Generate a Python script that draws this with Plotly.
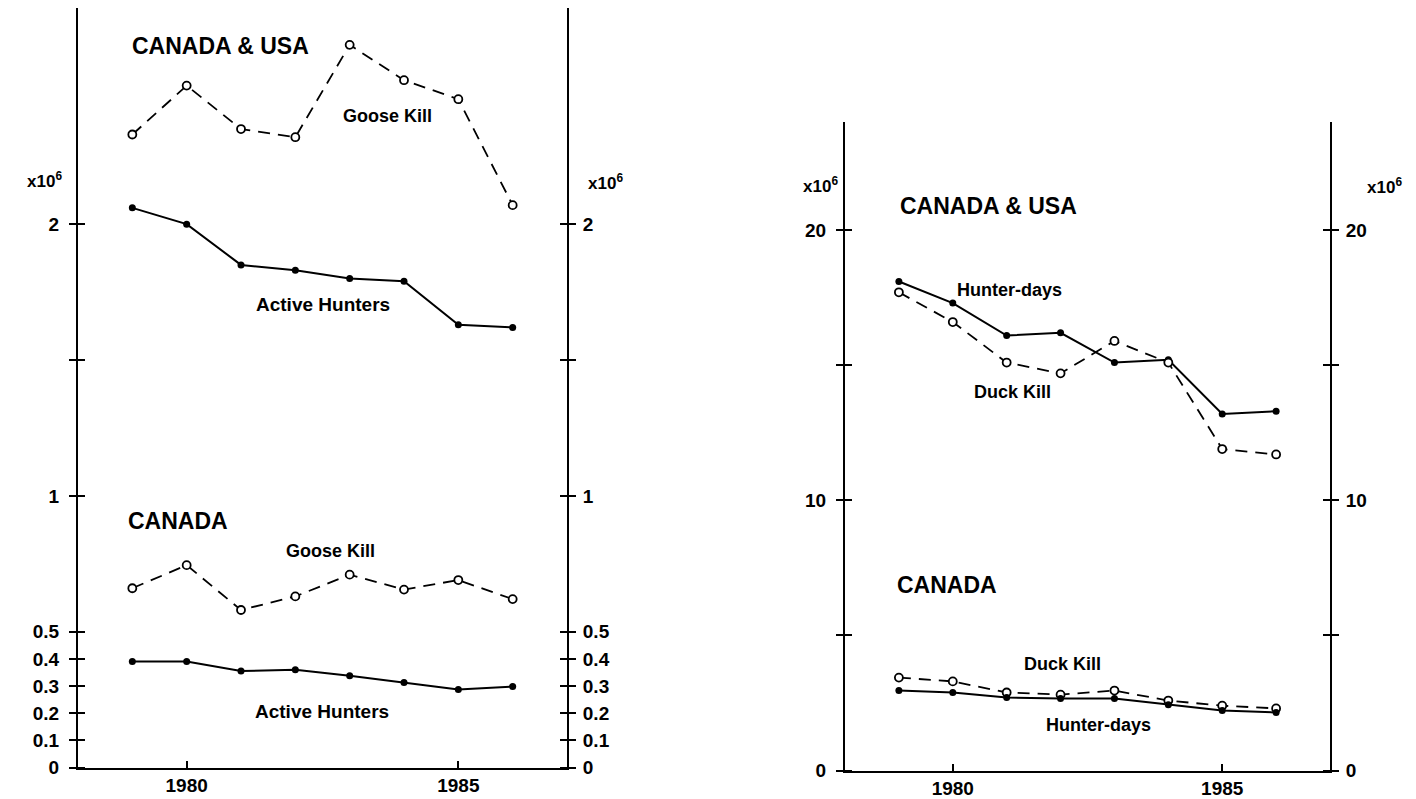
import plotly.graph_objects as go

years = [1979, 1980, 1981, 1982, 1983, 1984, 1985, 1986]

# Left panel (x10^6)
goose_kill_both = [2.33, 2.51, 2.35, 2.32, 2.66, 2.53, 2.46, 2.07]
active_hunters_both = [2.06, 2.00, 1.85, 1.83, 1.80, 1.79, 1.63, 1.62]
goose_kill_canada = [0.66, 0.745, 0.58, 0.63, 0.71, 0.655, 0.69, 0.62]
active_hunters_canada = [0.39, 0.39, 0.355, 0.36, 0.338, 0.313, 0.287, 0.298]

# Right panel (x10^6)
hunter_days_both = [18.1, 17.3, 16.1, 16.2, 15.1, 15.2, 13.2, 13.3]
duck_kill_both = [17.7, 16.6, 15.1, 14.7, 15.9, 15.1, 11.9, 11.7]
duck_kill_canada = [3.44, 3.3, 2.89, 2.81, 2.96, 2.59, 2.4, 2.3]
hunter_days_canada = [2.96, 2.89, 2.7, 2.67, 2.67, 2.44, 2.22, 2.15]

left_tickvals = [0, 0.1, 0.2, 0.3, 0.4, 0.5, 1, 1.5, 2]
left_ticktext = ["0", "0.1", "0.2", "0.3", "0.4", "0.5", "1", "", "2"]
right_tickvals = [0, 5, 10, 15, 20]
right_ticktext = ["0", "", "10", "", "20"]
x_tickvals = [1980, 1985]

W, H = 1416, 810
S = 0.9857  # observed vertical scale of the captured page
FONT = "Liberation Sans, Arial, sans-serif"

def px_x(px):
    return px / W

def px_y(py):
    return 1 - (py / S) / H

def solid(x, y, xa, ya):
    return go.Scatter(x=x, y=y, xaxis=xa, yaxis=ya, mode="lines+markers",
                      line=dict(color="black", width=2),
                      marker=dict(color="black", size=7),
                      showlegend=False, hoverinfo="skip")

def dashed(x, y, xa, ya):
    return go.Scatter(x=x, y=y, xaxis=xa, yaxis=ya, mode="lines+markers",
                      line=dict(color="black", width=1.8, dash="12px,8px"),
                      marker=dict(color="white", size=8,
                                  line=dict(color="black", width=1.8)),
                      showlegend=False, hoverinfo="skip")

fig = go.Figure()
fig.add_trace(dashed(years, goose_kill_both, "x", "y"))
fig.add_trace(solid(years, active_hunters_both, "x", "y"))
fig.add_trace(dashed(years, goose_kill_canada, "x", "y2"))
fig.add_trace(solid(years, active_hunters_canada, "x", "y2"))
fig.add_trace(solid(years, hunter_days_both, "x2", "y3"))
fig.add_trace(dashed(years, duck_kill_both, "x2", "y3"))
fig.add_trace(dashed(years, duck_kill_canada, "x2", "y4"))
fig.add_trace(solid(years, hunter_days_canada, "x2", "y4"))

tickfont = dict(family=FONT, size=19, color="black", weight="bold")

def shifted(vals):
    return [v + 1e-6 for v in vals]

def xaxis(domain, anchor):
    return dict(domain=domain, anchor=anchor, range=[1978, 1987],
                tickvals=x_tickvals, ticks="inside", ticklen=7, tickwidth=1.5,
                tickcolor="black", showline=True, linecolor="black", linewidth=2,
                showgrid=False, zeroline=False, tickfont=tickfont)

def yaxis(domain, rng, tv, tt, side, anchor, overlaying=None):
    d = dict(range=rng, tickvals=tv, ticktext=tt, side=side, anchor=anchor,
             ticks="outside", ticklen=7, tickwidth=1.5, tickcolor="black",
             showline=True, linecolor="black", linewidth=2,
             showgrid=False, zeroline=False, tickfont=tickfont,
             ticklabelstandoff=6 if side == "left" else 3,
             minor=dict(tickvals=shifted(tv), ticks="inside", ticklen=7,
                        tickwidth=1.5, tickcolor="black", showgrid=False))
    if overlaying:
        d["overlaying"] = overlaying
    else:
        d["domain"] = domain
    return d

ldom_x = [px_x(78), px_x(567)]
ldom_y = [px_y(767), px_y(8)]
rdom_x = [px_x(845), px_x(1330)]
rdom_y = [px_y(770), px_y(122)]
lrange = [0, (767 - 8) / 271.5]
rrange = [0, 24]

fig.update_layout(
    width=W, height=H,
    margin=dict(l=0, r=0, t=0, b=0),
    paper_bgcolor="white", plot_bgcolor="white",
    xaxis=xaxis(ldom_x, "y"),
    yaxis=yaxis(ldom_y, lrange, left_tickvals, left_ticktext, "left", "x"),
    yaxis2=yaxis(None, lrange, left_tickvals, left_ticktext, "right", "x", "y"),
    xaxis2=xaxis(rdom_x, "y3"),
    yaxis3=yaxis(rdom_y, rrange, right_tickvals, right_ticktext, "left", "x2"),
    yaxis4=yaxis(None, rrange, right_tickvals, right_ticktext, "right", "x2", "y3"),
)

def note(text, px, py, size=18, xanchor="center"):
    fig.add_annotation(text=text, x=px_x(px), y=px_y(py), xref="paper", yref="paper",
                       showarrow=False, xanchor=xanchor, yanchor="middle",
                       font=dict(family=FONT, size=size, color="black", weight="bold"))

# Left panel
note("CANADA &amp; USA", 130, 46, size=23, xanchor="left")
note("Goose Kill", 388, 116)
note("Active Hunters", 323, 304, size=19)
note("CANADA", 126, 521, size=23, xanchor="left")
note("Goose Kill", 330, 551)
note("Active Hunters", 322, 711, size=19)
note("x10<sup>6</sup>", 44, 180, size=17)
note("x10<sup>6</sup>", 605, 182, size=17)
# Right panel
note("CANADA &amp; USA", 898, 206, size=23, xanchor="left")
note("Hunter-days", 1010, 290)
note("Duck Kill", 1012, 392)
note("CANADA", 895, 585, size=23, xanchor="left")
note("Duck Kill", 1062, 664)
note("Hunter-days", 1098, 724)
note("x10<sup>6</sup>", 820, 185, size=17)
note("x10<sup>6</sup>", 1384, 186, size=17)

fig.write_html(
    "out.html",
    config={"displayModeBar": False},
    post_script=("document.documentElement.style.margin='0';"
                 "document.body.style.margin='0';"
                 "document.body.style.padding='0';"
                 "document.body.style.overflow='hidden';"
                 "document.querySelectorAll('svg.main-svg').forEach("
                 "function(s){s.style.overflow='visible';});"),
)
